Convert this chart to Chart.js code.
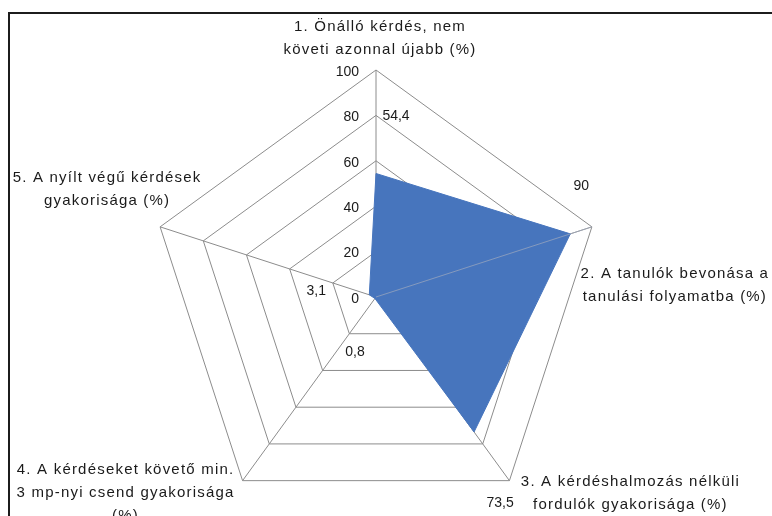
<!DOCTYPE html>
<html>
<head>
<meta charset="utf-8">
<script src="https://cdn.jsdelivr.net/npm/chart.js@4"></script>
<style>
  html, body { margin: 0; padding: 0; overflow: hidden; background: #fff; }
  #frame {
    position: absolute; left: 8px; top: 12px; right: -10px; bottom: -10px;
    border-top: 2px solid #1c1c1c; border-left: 2px solid #1c1c1c;
    pointer-events: none;
  }
  #radar { position: absolute; left: 0; top: 0; }
</style>
</head>
<body>
<canvas id="radar" width="772" height="540"></canvas>
<div id="frame"></div>
<script>
// radar chart data
var categories = [
    ['1. Önálló kérdés, nem', 'követi azonnal újabb (%)'],
    ['2. A tanulók bevonása a', 'tanulási folyamatba (%)'],
    ['3. A kérdéshalmozás nélküli', 'fordulók gyakorisága (%)'],
    ['4. A kérdéseket követő min.', '3 mp-nyi csend gyakorisága', '(%)'],
    ['5. A nyílt végű kérdések', 'gyakorisága (%)']
];
var values = [54.4, 90, 73.5, 0.8, 3.1];
var tickValues = [0, 20, 40, 60, 80, 100];

// where the labels sit relative to the outer corner / data point
var catOffsets = [[4, -43], [83, 47], [121, 1], [-117, -11], [-53, -49]];
var valueOffsets = [[20, -57], [11, -48], [26, 71], [-20, 54], [-53, -4]];

var textColor = '#1a1a1a';
var gridColor = '#8c8c8c';

var labelPlugin = {
    id: 'labelPlugin',
    afterDatasetsDraw: function (chart) {
        var scale = chart.scales.r;
        var ctx = chart.ctx;
        ctx.save();

        // angle line to category 2 shows through the fill
        var p2 = scale.getPointPositionForValue(1, 100);
        ctx.strokeStyle = 'rgba(160,170,190,0.7)';
        ctx.lineWidth = 1;
        ctx.beginPath();
        ctx.moveTo(scale.xCenter, scale.yCenter);
        ctx.lineTo(p2.x, p2.y);
        ctx.stroke();

        ctx.fillStyle = textColor;
        ctx.font = '14px "Liberation Sans", Arial, sans-serif';

        // tick labels, left of the vertical axis
        ctx.textAlign = 'right';
        ctx.textBaseline = 'middle';
        tickValues.forEach(function (t) {
            var y = scale.yCenter - scale.getDistanceFromCenterForValue(t);
            ctx.fillText(String(t), scale.xCenter - 17, y + 2);
        });

        // value labels
        ctx.textAlign = 'center';
        values.forEach(function (v, i) {
            var p = scale.getPointPositionForValue(i, v);
            var label = String(v).replace('.', ',');
            ctx.fillText(label, p.x + valueOffsets[i][0], p.y + valueOffsets[i][1]);
        });

        // category labels
        ctx.font = '15px "Liberation Sans", Arial, sans-serif';
        if ('letterSpacing' in ctx) ctx.letterSpacing = '1.2px';
        categories.forEach(function (lines, i) {
            var p = scale.getPointPositionForValue(i, 100);
            var x = p.x + catOffsets[i][0];
            var y = p.y + catOffsets[i][1];
            lines.forEach(function (line, k) {
                ctx.fillText(line, x, y + k * 23);
            });
        });
        ctx.restore();
    }
};

new Chart(document.getElementById('radar').getContext('2d'), {
    type: 'radar',
    data: {
        labels: categories,
        datasets: [{
            data: values,
            backgroundColor: '#4775bd',
            borderColor: '#4775bd',
            borderWidth: 1,
            pointRadius: 0,
            fill: true
        }]
    },
    options: {
        responsive: false,
        animation: false,
        layout: {
            padding: { top: 70, bottom: 16, left: 149, right: 169 }
        },
        plugins: {
            legend: { display: false },
            tooltip: { enabled: false }
        },
        scales: {
            r: {
                min: 0,
                max: 100,
                ticks: { stepSize: 20, display: false },
                pointLabels: { display: false },
                grid: { color: gridColor, lineWidth: 1 },
                angleLines: { color: gridColor, lineWidth: 1 }
            }
        }
    },
    plugins: [labelPlugin]
});
</script>
</body>
</html>
